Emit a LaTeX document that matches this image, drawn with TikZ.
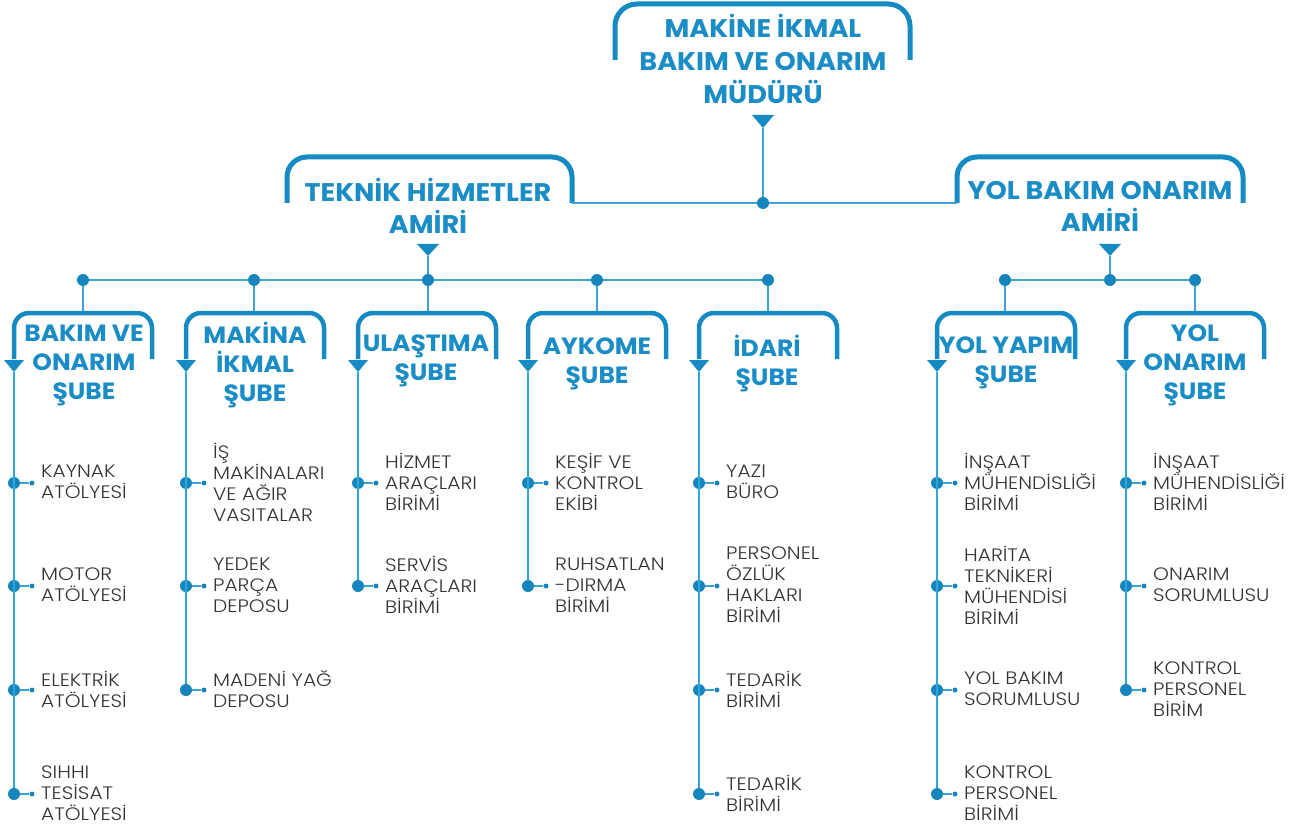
\documentclass[tikz,border=0pt]{standalone}
\usepackage{fontspec}
\setmainfont{Poppins}
\newfontfamily\titlefont{Poppins}[FakeStretch=1.06]
\newfontfamily\itemfont{Poppins Light}[FakeStretch=1.12]
\usetikzlibrary{calc}
\definecolor{tblue}{HTML}{1A8CC6}
\definecolor{brk}{HTML}{168AC2}
\definecolor{lblue}{HTML}{2FA6DC}
\definecolor{cblue}{HTML}{3BA3D6}
\definecolor{dotc}{HTML}{1685BE}
\definecolor{txt}{HTML}{333333}
\tikzset{
  bracket/.style={draw=brk,line width=5pt,rounded corners=20pt},
  sbracket/.style={draw=brk,line width=4.5pt,rounded corners=15pt},
  conn/.style={draw=cblue,line width=1.5pt},
  vline/.style={draw=lblue,line width=2pt},
  hubdot/.style={circle,fill=dotc,minimum size=12pt,inner sep=0pt},
  bigdot/.style={circle,fill=dotc,minimum size=12pt,inner sep=0pt},
  smalldot/.style={circle,fill=dotc,minimum size=5pt,inner sep=0pt},
  toptitle/.style={text=tblue,font=\titlefont\bfseries\fontsize{25.5}{33}\selectfont,align=center,inner sep=0pt},
  amtitle/.style={text=tblue,font=\titlefont\bfseries\fontsize{25.5}{32}\selectfont,align=center,inner sep=0pt},
  brtitle/.style={text=tblue,font=\titlefont\bfseries\fontsize{23.5}{29}\selectfont,align=center,inner sep=0pt},
  item/.style={text=txt,font=\itemfont\fontsize{18}{21}\selectfont,align=left,anchor=west,inner sep=0pt},
}
\newcommand\downtri[3]{\fill[brk] (#1) ++(-#2,-#3) -- ++({2*#2},0) -- (#1) -- cycle;}
\newcommand\branchbox[2]{%
  \draw[sbracket] (#2,359) -- (#2,313) -- ({#2+138},313) -- ({#2+138},359);
  \coordinate (#1tip) at (#2,372);
  \downtri{#1tip}{10}{12}
}
\newcommand\leaf[4]{%
  \node[bigdot] (#1) at (#2,#3) {};
  \node[smalldot] (#1s) at ({#2+18},#3) {};
  \draw[conn] (#1) -- (#1s);
  \node[item] (#1t) at ({#2+27},{#3-1}) {#4};
}
\begin{document}
\begin{tikzpicture}[x=1pt,y=-1pt]
\useasboundingbox (0,0) rectangle (1303,826);
% top
\draw[bracket,rounded corners=22pt] (615,60) -- (615,4) -- (910,4) -- (910,60);
\node[toptitle] (top) at (763,59) {MAKİNE İKMAL\\BAKIM VE ONARIM\\MÜDÜRÜ};
\coordinate (toptip) at (763,128);
\downtri{toptip}{11}{13}
\node[hubdot] (hub0) at (763,203) {};
\draw[conn] (toptip) -- (hub0);
% amirs
\draw[bracket] (287,203) -- (287,157) -- (572,157) -- (572,203);
\coordinate (tekR) at (572,203);
\node[amtitle] (tek) at (428,206) {TEKNİK HİZMETLER\\AMİRİ};
\draw[bracket] (957,203) -- (957,157) -- (1243,157) -- (1243,203);
\coordinate (yolL) at (957,203);
\node[amtitle] (yol) at (1100,206) {YOL BAKIM ONARIM\\AMİRİ};
\draw[conn] (tekR) -- (hub0) -- (yolL);
\coordinate (tektip) at (428,256);
\downtri{tektip}{11}{12}
\coordinate (yoltip) at (1110,256);
\downtri{yoltip}{11}{12}
\node[hubdot] (hubT) at (428,280) {};
\node[hubdot] (hubY) at (1110,280) {};
\draw[conn] (tektip) -- (hubT);
\draw[conn] (yoltip) -- (hubY);
% branch hubs
\node[hubdot] (h1) at (83,280) {};
\node[hubdot] (h2) at (254,280) {};
\node[hubdot] (h4) at (597,280) {};
\node[hubdot] (h5) at (768,280) {};
\node[hubdot] (h6) at (1005,280) {};
\node[hubdot] (h7) at (1195,280) {};
\draw[conn] (h1) -- (h2) -- (hubT) -- (h4) -- (h5);
\draw[conn] (h6) -- (hubY) -- (h7);
\coordinate (b1top) at (83,313);
\coordinate (b2top) at (254,313);
\coordinate (b3top) at (428,313);
\coordinate (b4top) at (597,313);
\coordinate (b5top) at (768,313);
\coordinate (b6top) at (1005,313);
\coordinate (b7top) at (1195,313);
\draw[conn] (h1) -- (b1top);
\draw[conn] (h2) -- (b2top);
\draw[conn] (hubT) -- (b3top);
\draw[conn] (h4) -- (b4top);
\draw[conn] (h5) -- (b5top);
\draw[conn] (h6) -- (b6top);
\draw[conn] (h7) -- (b7top);
% branch boxes
\branchbox{b1}{14}
\branchbox{b2}{186}
\branchbox{b3}{358}
\branchbox{b4}{528}
\branchbox{b5}{699}
\branchbox{b6}{937}
\branchbox{b7}{1126}
\node[brtitle] (t1) at (84,365) {BAKIM VE\\ONARIM\\ŞUBE};
\node[brtitle] (t2) at (255,365) {MAKİNA\\İKMAL\\ŞUBE};
\node[brtitle] (t3) at (426,361) {ULAŞTIMA\\ŞUBE};
\node[brtitle] (t4) at (597,364) {AYKOME\\ŞUBE};
\node[brtitle] (t5) at (767,363) {İDARİ\\ŞUBE};
\node[brtitle] (t6) at (1006,363) {YOL YAPIM\\ŞUBE};
\node[brtitle] (t7) at (1195,365) {YOL\\ONARIM\\ŞUBE};
% leaves col 1
\leaf{a1}{14}{483}{KAYNAK\\ATÖLYESİ}
\leaf{a2}{14}{586}{MOTOR\\ATÖLYESİ}
\leaf{a3}{14}{690}{ELEKTRİK\\ATÖLYESİ}
\leaf{a4}{14}{794}{SIHHI\\TESİSAT\\ATÖLYESİ}
\draw[vline] (b1tip) -- (a4);
% col 2
\leaf{m1}{186}{483}{İŞ\\MAKİNALARI\\VE AĞIR\\VASITALAR}
\leaf{m2}{186}{586}{YEDEK\\PARÇA\\DEPOSU}
\leaf{m3}{186}{690}{MADENİ YAĞ\\DEPOSU}
\draw[vline] (b2tip) -- (m3);
% col 3
\leaf{u1}{358}{483}{HİZMET\\ARAÇLARI\\BİRİMİ}
\leaf{u2}{358}{586}{SERVİS\\ARAÇLARI\\BİRİMİ}
\draw[vline] (b3tip) -- (u2);
% col 4
\leaf{k1}{528}{483}{KEŞİF VE\\KONTROL\\EKİBİ}
\leaf{k2}{528}{586}{RUHSATLAN\\-DIRMA\\BİRİMİ}
\draw[vline] (b4tip) -- (k2);
% col 5
\leaf{i1}{699}{483}{YAZI\\BÜRO}
\leaf{i2}{699}{586}{PERSONEL\\ÖZLÜK\\HAKLARI\\BİRİMİ}
\leaf{i3}{699}{690}{TEDARİK\\BİRİMİ}
\leaf{i4}{699}{794}{TEDARİK\\BİRİMİ}
\draw[vline] (b5tip) -- (i4);
% col 6
\leaf{y1}{937}{483}{İNŞAAT\\MÜHENDİSLİĞİ\\BİRİMİ}
\leaf{y2}{937}{586}{HARİTA\\TEKNİKERİ\\MÜHENDİSİ\\BİRİMİ}
\leaf{y3}{937}{690}{YOL BAKIM\\SORUMLUSU}
\leaf{y4}{937}{794}{KONTROL\\PERSONEL\\BİRİMİ}
\draw[vline] (b6tip) -- (y4);
% col 7
\leaf{o1}{1126}{483}{İNŞAAT\\MÜHENDİSLİĞİ\\BİRİMİ}
\leaf{o2}{1126}{586}{ONARIM\\SORUMLUSU}
\leaf{o3}{1126}{690}{KONTROL\\PERSONEL\\BİRİM}
\draw[vline] (b7tip) -- (o3);
\end{tikzpicture}
\end{document}
